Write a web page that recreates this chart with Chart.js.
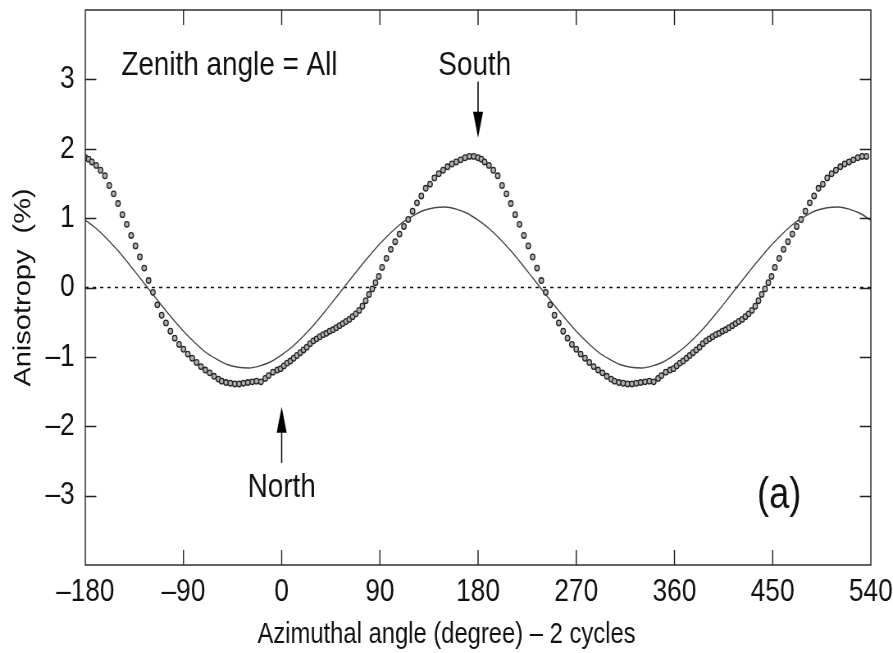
<!DOCTYPE html>
<html>
<head>
<meta charset="utf-8">
<script src="https://cdn.jsdelivr.net/npm/chart.js@4.4.0/dist/chart.umd.min.js"></script>
<style>
  html, body { margin: 0; padding: 0; background: #fff; overflow: hidden; }
  /* 세로로 긴 글꼴 느낌을 내려고 가로만 줄여서 보여준다 */
  #wrap { width: 1089px; height: 653px; transform: scaleX(0.82); transform-origin: 0 0; }
</style>
</head>
<body>
<div id="wrap"><canvas id="aniso" width="1089" height="653"></canvas></div>
<script>
// 한 주기(-180 ~ 180도) 측정값 — 그림에서는 2주기로 이어 붙여 그린다
const measAngles = [
  -180, -177, -174, -170, -166, -162, -158, -154, -150, -146,
  -142, -138, -134, -130, -126, -122, -118, -114, -110, -106,
  -102, -98, -94, -90, -86, -82, -78, -74, -70, -66,
  -62, -58, -55, -51, -47, -43, -39, -35, -31, -27,
  -23, -19, -15, -12, -8, -4, -1, 2, 5, 8,
  11, 14, 17, 20, 23, 26, 29, 32, 35, 38,
  41, 44, 47, 50, 53, 56, 59, 62, 65, 68,
  71, 74, 77, 80, 83, 86, 89, 92, 96, 100,
  104, 108, 112, 116, 120, 124, 128, 132, 136, 140,
  144, 148, 152, 156, 160, 164, 168, 172, 176
];
const measValues = [
  1.87, 1.85, 1.81, 1.76, 1.69, 1.61, 1.47, 1.35, 1.21, 1.05,
  0.91, 0.75, 0.60, 0.44, 0.28, 0.10, -0.07, -0.25, -0.40, -0.51,
  -0.63, -0.73, -0.82, -0.89, -0.96, -1.02, -1.08, -1.14, -1.19, -1.23,
  -1.28, -1.32, -1.35, -1.37, -1.38, -1.39, -1.39, -1.38, -1.37, -1.36,
  -1.35, -1.36, -1.31, -1.27, -1.22, -1.19, -1.17, -1.13, -1.09, -1.06,
  -1.02, -0.98, -0.94, -0.90, -0.86, -0.81, -0.77, -0.74, -0.71, -0.68,
  -0.66, -0.63, -0.61, -0.58, -0.55, -0.52, -0.49, -0.46, -0.42, -0.38,
  -0.33, -0.27, -0.19, -0.10, -0.02, 0.07, 0.16, 0.29, 0.42, 0.55,
  0.66, 0.77, 0.88, 0.98, 1.10, 1.22, 1.32, 1.43, 1.49, 1.58,
  1.64, 1.69, 1.74, 1.78, 1.81, 1.84, 1.87, 1.89, 1.89
];

// 1차 조화 성분 곡선 (실선)
const fitAngles = [
  -180, -170, -160, -150, -140, -130, -120, -110, -100, -90,
  -80, -70, -60, -50, -40, -30, -20, -10, 0, 10,
  20, 30, 40, 50, 60, 70, 80, 90, 100, 110,
  120, 130, 140, 150, 160, 170, 180
];
const fitValues = [
  0.97, 0.85, 0.70, 0.53, 0.34, 0.14, -0.06, -0.26, -0.45, -0.63,
  -0.79, -0.93, -1.03, -1.11, -1.15, -1.16, -1.13, -1.07, -0.97, -0.85,
  -0.70, -0.53, -0.34, -0.14, 0.06, 0.26, 0.45, 0.63, 0.79, 0.93,
  1.03, 1.11, 1.15, 1.16, 1.13, 1.07, 0.97
];

const cycleShifts = [0, 360];
const xTicks = [-180, -90, 0, 90, 180, 270, 360, 450, 540];
const yTicks = [-3, -2, -1, 0, 1, 2, 3];
const xRange = [-180, 540];
const yRange = [-4, 4];
const xTitle = 'Azimuthal angle (degree) \u2013 2 cycles';
const yTitle = 'Anisotropy  (%)';

const FONT = "'Liberation Sans', Arial, sans-serif";
const SX = 0.82; // 가로 축소 비율 (가로 길이 보정용)

// 두 주기로 펼치기
function twoCycles(angles, values, skipLast) {
  const pts = [];
  cycleShifts.forEach((s, k) => {
    angles.forEach((a, i) => {
      if (skipLast && k < cycleShifts.length - 1 && i === angles.length - 1) return;
      pts.push({ x: a + s, y: values[i] });
    });
  });
  return pts;
}

function tickText(v) {
  return v < 0 ? '\u2013' + Math.abs(v) : String(v);
}

// 글자 주석과 화살표 (데이터 좌표)
const notes = [
  { text: 'Zenith angle = All', x: -147, y: 3.2, align: 'left', size: 34 },
  { text: 'South', x: 177, y: 3.2, align: 'center', size: 34 },
  { text: 'North', x: 0, y: -2.88, align: 'center', size: 34 },
  { text: '(a)', x: 456, y: -3.0, align: 'center', size: 44 }
];
const arrows = [
  { x: 180, from: 2.97, to: 2.16 },
  { x: 0, from: -2.53, to: -1.72 }
];

const frameAndNotes = {
  id: 'frameAndNotes',
  afterDraw(chart) {
    const { ctx, chartArea: a, scales: { x, y } } = chart;
    ctx.save();
    ctx.strokeStyle = '#222';
    ctx.lineWidth = 1.4;
    ctx.strokeRect(a.left, a.top, a.right - a.left, a.bottom - a.top);

    // 안쪽으로 향한 눈금
    ctx.beginPath();
    xTicks.forEach(v => {
      if (v <= xRange[0] || v >= xRange[1]) return;
      const px = x.getPixelForValue(v);
      ctx.moveTo(px, a.bottom); ctx.lineTo(px, a.bottom - 15);
      ctx.moveTo(px, a.top); ctx.lineTo(px, a.top + 15);
    });
    yTicks.forEach(v => {
      const py = Math.round(y.getPixelForValue(v)) + 0.5;
      ctx.moveTo(a.left, py); ctx.lineTo(a.left + 11 / SX, py);
      ctx.moveTo(a.right, py); ctx.lineTo(a.right - 11 / SX, py);
    });
    ctx.stroke();

    // 화살표
    ctx.fillStyle = '#000';
    ctx.strokeStyle = '#000';
    ctx.lineWidth = 1.5;
    arrows.forEach(ar => {
      const px = x.getPixelForValue(ar.x);
      const y0 = y.getPixelForValue(ar.from);
      const y1 = y.getPixelForValue(ar.to);
      const dir = Math.sign(y1 - y0);
      ctx.beginPath();
      ctx.moveTo(px, y0);
      ctx.lineTo(px, y1 - dir * 20);
      ctx.stroke();
      ctx.beginPath();
      ctx.moveTo(px, y1);
      ctx.lineTo(px - 5 / SX, y1 - dir * 26);
      ctx.lineTo(px + 5 / SX, y1 - dir * 26);
      ctx.closePath();
      ctx.fill();
    });

    // 글자
    ctx.fillStyle = '#111';
    ctx.textBaseline = 'middle';
    notes.forEach(n => {
      ctx.font = n.size + 'px ' + FONT;
      ctx.textAlign = n.align;
      ctx.fillText(n.text, x.getPixelForValue(n.x), y.getPixelForValue(n.y));
    });

    // x축 제목은 그림 전체 가운데에 둔다
    ctx.font = '29px ' + FONT;
    ctx.textAlign = 'center';
    ctx.fillText(xTitle, chart.width / 2, chart.height - 18);
    ctx.restore();
  }
};

const ctx = document.getElementById('aniso').getContext('2d');
new Chart(ctx, {
  type: 'scatter',
  data: {
    datasets: [
      {
        label: 'measured',
        data: twoCycles(measAngles, measValues, false),
        showLine: false,
        pointStyle: 'circle',
        pointRadius: 2.8,
        pointBorderWidth: 1.3,
        pointBorderColor: '#262626',
        pointBackgroundColor: '#b0b0b0',
        order: 0
      },
      {
        label: 'fit',
        data: twoCycles(fitAngles, fitValues, true),
        showLine: true,
        cubicInterpolationMode: 'monotone',
        borderColor: '#4a4a4a',
        borderWidth: 1.4,
        pointRadius: 0,
        order: 1
      },
      {
        label: 'zero',
        data: [{ x: xRange[0], y: 0 }, { x: xRange[1], y: 0 }],
        showLine: true,
        borderColor: '#111',
        borderWidth: 1.3,
        borderDash: [4, 5],
        pointRadius: 0,
        order: 2
      }
    ]
  },
  options: {
    responsive: false,
    animation: false,
    layout: { padding: { top: 10, right: 27, left: 0, bottom: 0 } },
    plugins: {
      legend: { display: false },
      tooltip: { enabled: false }
    },
    scales: {
      x: {
        type: 'linear',
        min: xRange[0],
        max: xRange[1],
        afterBuildTicks: s => { s.ticks = xTicks.map(v => ({ value: v })); },
        afterFit: s => { s.height = 88; s.paddingLeft = 0; s.paddingRight = 0; },
        grid: { display: false, drawTicks: false },
        border: { display: false },
        ticks: {
          padding: 8,
          color: '#111',
          font: { family: FONT, size: 32 },
          maxRotation: 0,
          callback: tickText
        },
        title: { display: false }
      },
      y: {
        type: 'linear',
        min: yRange[0],
        max: yRange[1],
        afterBuildTicks: s => { s.ticks = yTicks.map(v => ({ value: v })); },
        afterFit: s => { s.width = 104; s.paddingTop = 0; s.paddingBottom = 0; },
        grid: { display: false, drawTicks: false },
        border: { display: false },
        ticks: {
          padding: 13,
          color: '#111',
          font: { family: FONT, size: 32 },
          callback: tickText
        },
        title: {
          display: true,
          text: yTitle,
          color: '#111',
          font: { family: FONT, size: 29, lineHeight: 1.2 },
          padding: { top: 12, bottom: 0 }
        }
      }
    }
  },
  plugins: [frameAndNotes]
});
</script>
</body>
</html>
